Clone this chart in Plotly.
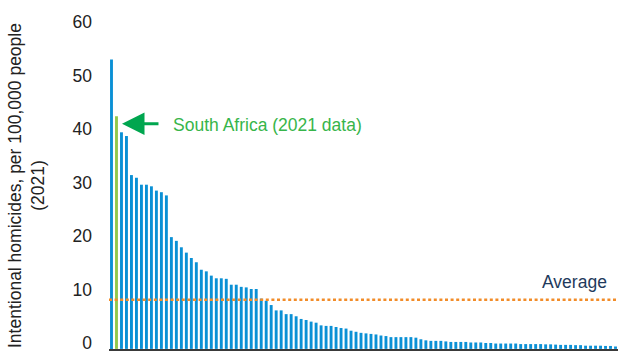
import plotly.graph_objects as go

# Countries ranked by intentional homicide rate (per 100,000 people, 2021)
rank = list(range(1, 103))
homicide_rate = [
    54.1, 43.5, 40.5, 39.8, 32.5, 32.0, 30.7, 30.7, 30.4, 29.6,
    29.3, 28.7, 20.9, 20.2, 19.0, 18.0, 17.0, 16.2, 14.8, 14.5,
    13.7, 13.2, 13.2, 13.1, 12.0, 12.0, 11.6, 11.5, 11.2, 11.2,
    9.4, 9.0, 8.2, 7.2, 7.2, 6.5, 6.5, 6.1, 5.6, 5.4,
    5.1, 4.9, 4.4, 4.3, 4.3, 4.1, 3.9, 3.8, 3.4, 3.2,
    3.0, 2.9, 2.8, 2.7, 2.5, 2.4, 2.2, 2.2, 2.2, 2.2,
    2.2, 2.1, 1.8, 1.6, 1.5, 1.5, 1.5, 1.4, 1.3, 1.3,
    1.3, 1.3, 1.2, 1.2, 1.2, 1.1, 1.1, 1.0, 1.0, 1.0,
    1.0, 1.0, 0.9, 0.9, 0.9, 0.9, 0.9, 0.85, 0.85, 0.8,
    0.75, 0.75, 0.75, 0.7, 0.7, 0.6, 0.6, 0.6, 0.6, 0.55,
    0.55, 0.45,
]
highlight_rank = 2          # South Africa (2021 data)
average_rate = 9.2
y_ticks = [0, 10, 20, 30, 40, 50, 60]

BLUE = "#0a90d5"
LIGHT_GREEN = "#92c84a"
ARROW_GREEN = "#00a64f"
TEXT_GREEN = "#37b54a"
NAVY = "#1f3a5c"
ORANGE = "#f28c28"
FONT = "Liberation Sans Narrow, Arial Narrow, Liberation Sans, Arial, sans-serif"
FS = 17.5

colors = [LIGHT_GREEN if r == highlight_rank else BLUE for r in rank]

fig = go.Figure()
fig.add_trace(go.Bar(
    x=rank, y=homicide_rate, marker_color=colors, marker_line_width=0,
    hovertemplate="Rank %{x}: %{y}<extra></extra>",
))

fig.add_shape(type="line", xref="paper", yref="y", x0=0, x1=1,
              y0=average_rate, y1=average_rate,
              line=dict(color=ORANGE, width=2.5, dash="3px,2.6px"))

fig.add_annotation(text="Average", xref="paper", yref="y", x=0.9155, y=12.5,
                   xanchor="center", yanchor="middle", showarrow=False,
                   font=dict(family=FONT, size=FS, color=NAVY))

fig.add_annotation(text="South Africa (2021 data)", xref="paper", yref="y",
                   x=0.1218, y=41.8, xanchor="left", yanchor="middle",
                   showarrow=False, font=dict(family=FONT, size=FS, color=TEXT_GREEN))

fig.add_annotation(text="", xref="paper", yref="y", x=0.0255, y=42.1,
                   showarrow=True, ax=38, ay=0, axref="pixel", ayref="pixel",
                   arrowhead=2, arrowsize=1.5, arrowwidth=3, arrowcolor=ARROW_GREEN)

fig.add_annotation(text="Intentional homicides, per 100,000 people<br>(2021)",
                   xref="paper", yref="paper", x=-0.1611, y=0.5078,
                   xanchor="center", yanchor="middle", textangle=-90,
                   showarrow=False, font=dict(family=FONT, size=FS, color="#222222"))

fig.update_layout(
    width=618, height=352,
    margin=dict(l=109, r=0, t=28, b=3),
    paper_bgcolor="white", plot_bgcolor="white",
    bargap=0.42, showlegend=False,
    font=dict(family=FONT, size=FS, color="#222222"),
)
fig.update_xaxes(range=[0.5, 102.5], showticklabels=False, showgrid=False,
                 zeroline=False, showline=True, linecolor="#3a3a3a", linewidth=1.5,
                 ticks="")
fig.update_yaxes(range=[-0.02, 60], tickvals=y_ticks, showgrid=False, zeroline=False,
                 showline=False, ticks="", ticklabelshift=-6, ticklabelstandoff=16,
                 ticklabeloverflow="allow",
                 tickfont=dict(family=FONT, size=FS, color="#222222"))

fig.write_html("out.html", config={"displayModeBar": False},
               post_script="document.body.style.margin='0';")
